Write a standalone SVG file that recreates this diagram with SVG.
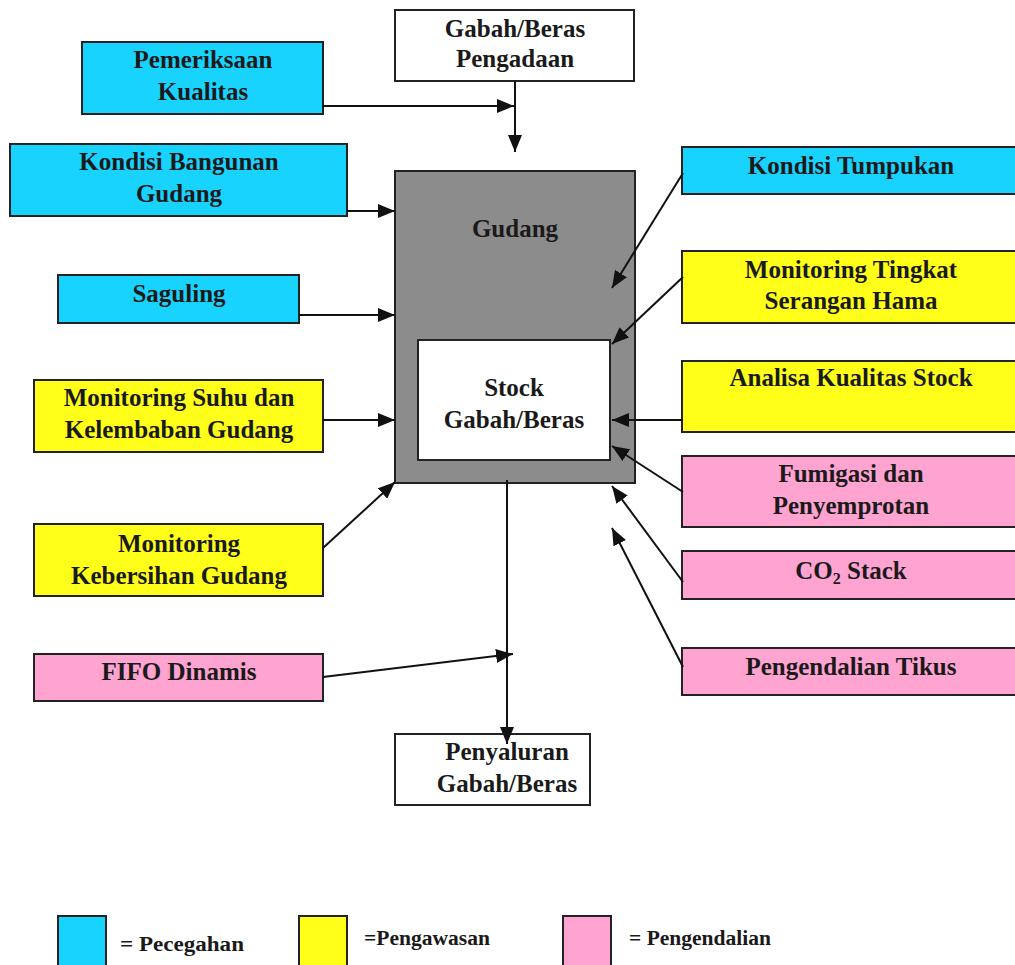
<svg xmlns="http://www.w3.org/2000/svg" width="1015" height="965" viewBox="0 0 1015 965">
<defs>
<marker id="ah" markerWidth="17" markerHeight="14" refX="17" refY="7" orient="auto" markerUnits="userSpaceOnUse">
<path d="M0,0 L17,7 L0,14 Z" fill="#111"/>
</marker>
<style>
.box{stroke:#222;stroke-width:2}
.c{fill:#19d3ff}
.y{fill:#ffff19}
.p{fill:#ffa3d1}
.w{fill:#fff}
.g{fill:#8c8c8c}
.t{font-family:"Liberation Serif","Times New Roman",serif;font-weight:bold;font-size:25px;fill:#1a1a1a;text-anchor:middle}
.lt{font-family:"Liberation Serif","Times New Roman",serif;font-weight:bold;font-size:20px;fill:#1a1a1a}
.ln{stroke:#111;stroke-width:2;fill:none}
</style>
</defs>
<rect width="1015" height="965" fill="#fff"/>

<g id="gudang">
<rect class="box g" x="395" y="171" width="240" height="312"/>
<text class="t" x="515" y="237">Gudang</text>
</g>
<g id="stock">
<rect class="box w" x="418" y="340" width="192" height="120"/>
<text class="t" x="514" y="396">Stock</text>
<text class="t" x="514" y="428">Gabah/Beras</text>
</g>
<g id="pengadaan">
<rect class="box w" x="395" y="10" width="239" height="71"/>
<text class="t" x="515" y="37">Gabah/Beras</text>
<text class="t" x="515" y="67">Pengadaan</text>
</g>
<g id="pemeriksaan">
<rect class="box c" x="82" y="42" width="241" height="72"/>
<text class="t" x="203" y="68">Pemeriksaan</text>
<text class="t" x="203" y="100">Kualitas</text>
</g>
<g id="kondisi-bangunan">
<rect class="box c" x="10" y="144" width="337" height="72"/>
<text class="t" x="179" y="170">Kondisi Bangunan</text>
<text class="t" x="179" y="202">Gudang</text>
</g>
<g id="saguling">
<rect class="box c" x="58" y="275" width="241" height="48"/>
<text class="t" x="179" y="302">Saguling</text>
</g>
<g id="monitoring-suhu">
<rect class="box y" x="34" y="380" width="289" height="72"/>
<text class="t" x="179" y="406">Monitoring Suhu dan</text>
<text class="t" x="179" y="438">Kelembaban Gudang</text>
</g>
<g id="monitoring-kebersihan">
<rect class="box y" x="34" y="524" width="289" height="72"/>
<text class="t" x="179" y="552">Monitoring</text>
<text class="t" x="179" y="584">Kebersihan Gudang</text>
</g>
<g id="fifo">
<rect class="box p" x="34" y="654" width="289" height="47"/>
<text class="t" x="179" y="680">FIFO Dinamis</text>
</g>
<g id="kondisi-tumpukan">
<rect class="box c" x="682" y="147" width="340" height="47"/>
<text class="t" x="851" y="174">Kondisi Tumpukan</text>
</g>
<g id="monitoring-hama">
<rect class="box y" x="682" y="251" width="340" height="72"/>
<text class="t" x="851" y="278">Monitoring Tingkat</text>
<text class="t" x="851" y="309">Serangan Hama</text>
</g>
<g id="analisa">
<rect class="box y" x="682" y="361" width="340" height="71"/>
<text class="t" x="851" y="386">Analisa Kualitas Stock</text>
</g>
<g id="fumigasi">
<rect class="box p" x="682" y="456" width="340" height="71"/>
<text class="t" x="851" y="482">Fumigasi dan</text>
<text class="t" x="851" y="514">Penyemprotan</text>
</g>
<g id="co2">
<rect class="box p" x="682" y="551" width="340" height="48"/>
<text class="t" x="851" y="579">CO<tspan font-size="16" dy="5">2</tspan><tspan dy="-5"> Stack</tspan></text>
</g>
<g id="tikus">
<rect class="box p" x="682" y="648" width="340" height="47"/>
<text class="t" x="851" y="675">Pengendalian Tikus</text>
</g>
<g id="penyaluran">
<rect class="box w" x="395" y="734" width="195" height="71"/>
<text class="t" x="507" y="760">Penyaluran</text>
<text class="t" x="507" y="792">Gabah/Beras</text>
</g>

<g id="connectors">
<line class="ln" x1="515" y1="81" x2="515" y2="152" marker-end="url(#ah)"/>
<line class="ln" x1="323" y1="106" x2="514" y2="106" marker-end="url(#ah)"/>
<line class="ln" x1="347" y1="211" x2="395" y2="211" marker-end="url(#ah)"/>
<line class="ln" x1="299" y1="315" x2="395" y2="315" marker-end="url(#ah)"/>
<line class="ln" x1="323" y1="420" x2="395" y2="420" marker-end="url(#ah)"/>
<line class="ln" x1="323" y1="548" x2="395" y2="482" marker-end="url(#ah)"/>
<line class="ln" x1="323" y1="677" x2="513" y2="654" marker-end="url(#ah)"/>
<line class="ln" x1="507" y1="480" x2="507" y2="744" marker-end="url(#ah)"/>
<line class="ln" x1="683" y1="173" x2="612" y2="288" marker-end="url(#ah)"/>
<line class="ln" x1="683" y1="277" x2="612" y2="344" marker-end="url(#ah)"/>
<line class="ln" x1="683" y1="420" x2="612" y2="420" marker-end="url(#ah)"/>
<line class="ln" x1="683" y1="492" x2="612" y2="446" marker-end="url(#ah)"/>
<line class="ln" x1="683" y1="582" x2="612" y2="486" marker-end="url(#ah)"/>
<line class="ln" x1="683" y1="667" x2="612" y2="528" marker-end="url(#ah)"/>
</g>

<g id="legend">
<rect class="box c" x="58" y="916" width="48" height="52"/>
<text class="lt" x="120" y="951" textLength="124" lengthAdjust="spacingAndGlyphs">= Pecegahan</text>
<rect class="box y" x="299" y="916" width="48" height="52"/>
<text class="lt" x="364" y="945" textLength="126" lengthAdjust="spacingAndGlyphs">=Pengawasan</text>
<rect class="box p" x="563" y="916" width="48" height="52"/>
<text class="lt" x="629" y="945" textLength="142" lengthAdjust="spacingAndGlyphs">= Pengendalian</text>
</g>
</svg>
